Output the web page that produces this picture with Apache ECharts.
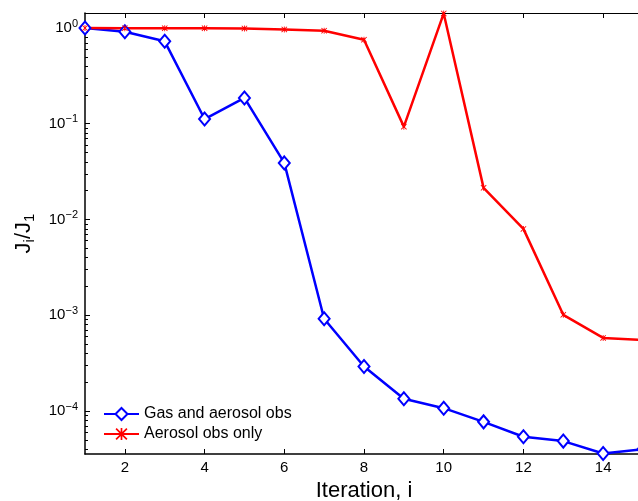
<!DOCTYPE html>
<html>
<head>
<meta charset="utf-8">
<script src="https://cdn.jsdelivr.net/npm/echarts@6/dist/echarts.min.js"></script>
<style>
  html, body { margin: 0; padding: 0; background: #fff; }
  #chart { width: 638px; height: 501px; }
</style>
</head>
<body>
<div id="chart"></div>
<script>
var iterations = [1, 2, 3, 4, 5, 6, 7, 8, 9, 10, 11, 12, 13, 14, 15]
var gasAndAerosol = [1.0, 0.915, 0.726, 0.112, 0.186, 0.039, 9.2e-4, 2.92e-4, 1.34e-4, 1.07e-4, 7.7e-5, 5.38e-5, 4.85e-5, 3.6e-5, 3.98e-5]
var aerosolOnly = [1.0, 0.995, 0.995, 0.995, 0.99, 0.965, 0.937, 0.755, 0.0933, 1.42, 0.0214, 0.00798, 1.01e-3, 5.8e-4, 5.5e-4]
var xTicks = [2, 4, 6, 8, 10, 12, 14]
var yTicks = [1e-4, 1e-3, 1e-2, 1e-1, 1]
var minorFactors = [2, 3, 4, 5, 6, 7, 8, 9]

var yMin = 3.556e-5
var yMax = 1.434

// minor ticks of the log axis: 2..9 times each decade
var yMinor = []
var decades = [1e-5].concat(yTicks)
decades.forEach(function (d) {
  minorFactors.forEach(function (f) {
    var v = d * f
    if (v > yMin && v < yMax) yMinor.push(v)
  })
})

var font = 'Liberation Sans, Arial, Helvetica, sans-serif'

function pairs (ys) {
  return iterations.map(function (x, i) { return [x, ys[i]] })
}

function yAxis (position, minor, withLabel) {
  return {
    type: 'log',
    position: position,
    min: yMin,
    max: yMax,
    axisLine: { show: !minor, lineStyle: { color: '#000', width: 1.5 } },
    splitLine: { show: false },
    axisTick: {
      show: true,
      inside: true,
      length: minor ? 3 : 5,
      lineStyle: { color: '#000', width: 1 },
      customValues: minor ? yMinor : yTicks
    },
    axisLabel: {
      show: withLabel,
      margin: 7,
      customValues: yTicks,
      formatter: function (v) {
        var e = Math.round(Math.log10(v))
        return '{b|10}{e|' + (e < 0 ? '\u2212' + (-e) : e) + '}'
      },
      rich: {
        b: { fontSize: 15, color: '#000', fontFamily: font },
        e: { fontSize: 11, color: '#000', fontFamily: font, padding: [0, 0, 9, 0] }
      }
    }
  }
}

var yAxes = [yAxis('left', false, true), yAxis('left', true, false), yAxis('right', false, false), yAxis('right', true, false)]
yAxes[0].name = '{a|J}{s|i}{a|/J}{s|1}'
yAxes[0].nameLocation = 'middle'
yAxes[0].nameGap = 48
yAxes[0].nameTextStyle = {
  rich: {
    a: { fontSize: 22, color: '#000', fontFamily: font },
    s: { fontSize: 15, color: '#000', fontFamily: font, padding: [12, 0, 0, 0] }
  }
}

var chart = echarts.init(document.getElementById('chart'))
chart.setOption({
  animation: false,
  backgroundColor: '#fff',
  grid: { left: 85, top: 13, width: 558, height: 441, outerBoundsMode: 'none', containLabel: false },
  legend: {
    left: 103,
    top: 406,
    padding: 0,
    orient: 'vertical',
    itemWidth: 35,
    itemHeight: 15,
    itemGap: 4,
    textStyle: { fontSize: 16, color: '#000', fontFamily: font },
    data: ['Gas and aerosol obs', 'Aerosol obs only']
  },
  xAxis: [{
    type: 'value',
    position: 'bottom',
    min: 1,
    max: 15,
    name: 'Iteration, i',
    nameLocation: 'middle',
    nameGap: 20,
    nameTextStyle: { fontSize: 22, color: '#000', fontFamily: font },
    axisLine: { lineStyle: { color: '#000', width: 1.5 } },
    splitLine: { show: false },
    axisTick: { inside: true, length: 5, lineStyle: { color: '#000' }, customValues: xTicks },
    axisLabel: { margin: 6, fontSize: 15, color: '#000', fontFamily: font, customValues: xTicks }
  }, {
    type: 'value',
    position: 'top',
    min: 1,
    max: 15,
    axisLine: { lineStyle: { color: '#000', width: 1 } },
    splitLine: { show: false },
    axisTick: { inside: true, length: 5, lineStyle: { color: '#000' }, customValues: xTicks },
    axisLabel: { show: false }
  }],
  yAxis: yAxes,
  series: [{
    name: 'Gas and aerosol obs',
    type: 'line',
    data: pairs(gasAndAerosol),
    symbol: 'emptyDiamond',
    symbolSize: [11, 13],
    lineStyle: { color: '#0000ff', width: 2.5 },
    itemStyle: { color: '#0000ff', borderColor: '#0000ff', borderWidth: 2 }
  }, {
    name: 'Aerosol obs only',
    type: 'line',
    data: pairs(aerosolOnly),
    symbol: 'path://M0,1L1,0L5,4L9,0L10,1L6,5L10,9L9,10L5,6L1,10L0,9L4,5ZM4.3,0L5.7,0L5.7,10L4.3,10Z',
    symbolSize: 6,
    lineStyle: { color: '#ff0000', width: 2.5 },
    itemStyle: { color: '#ff0000' }
  }]
})
</script>
</body>
</html>
